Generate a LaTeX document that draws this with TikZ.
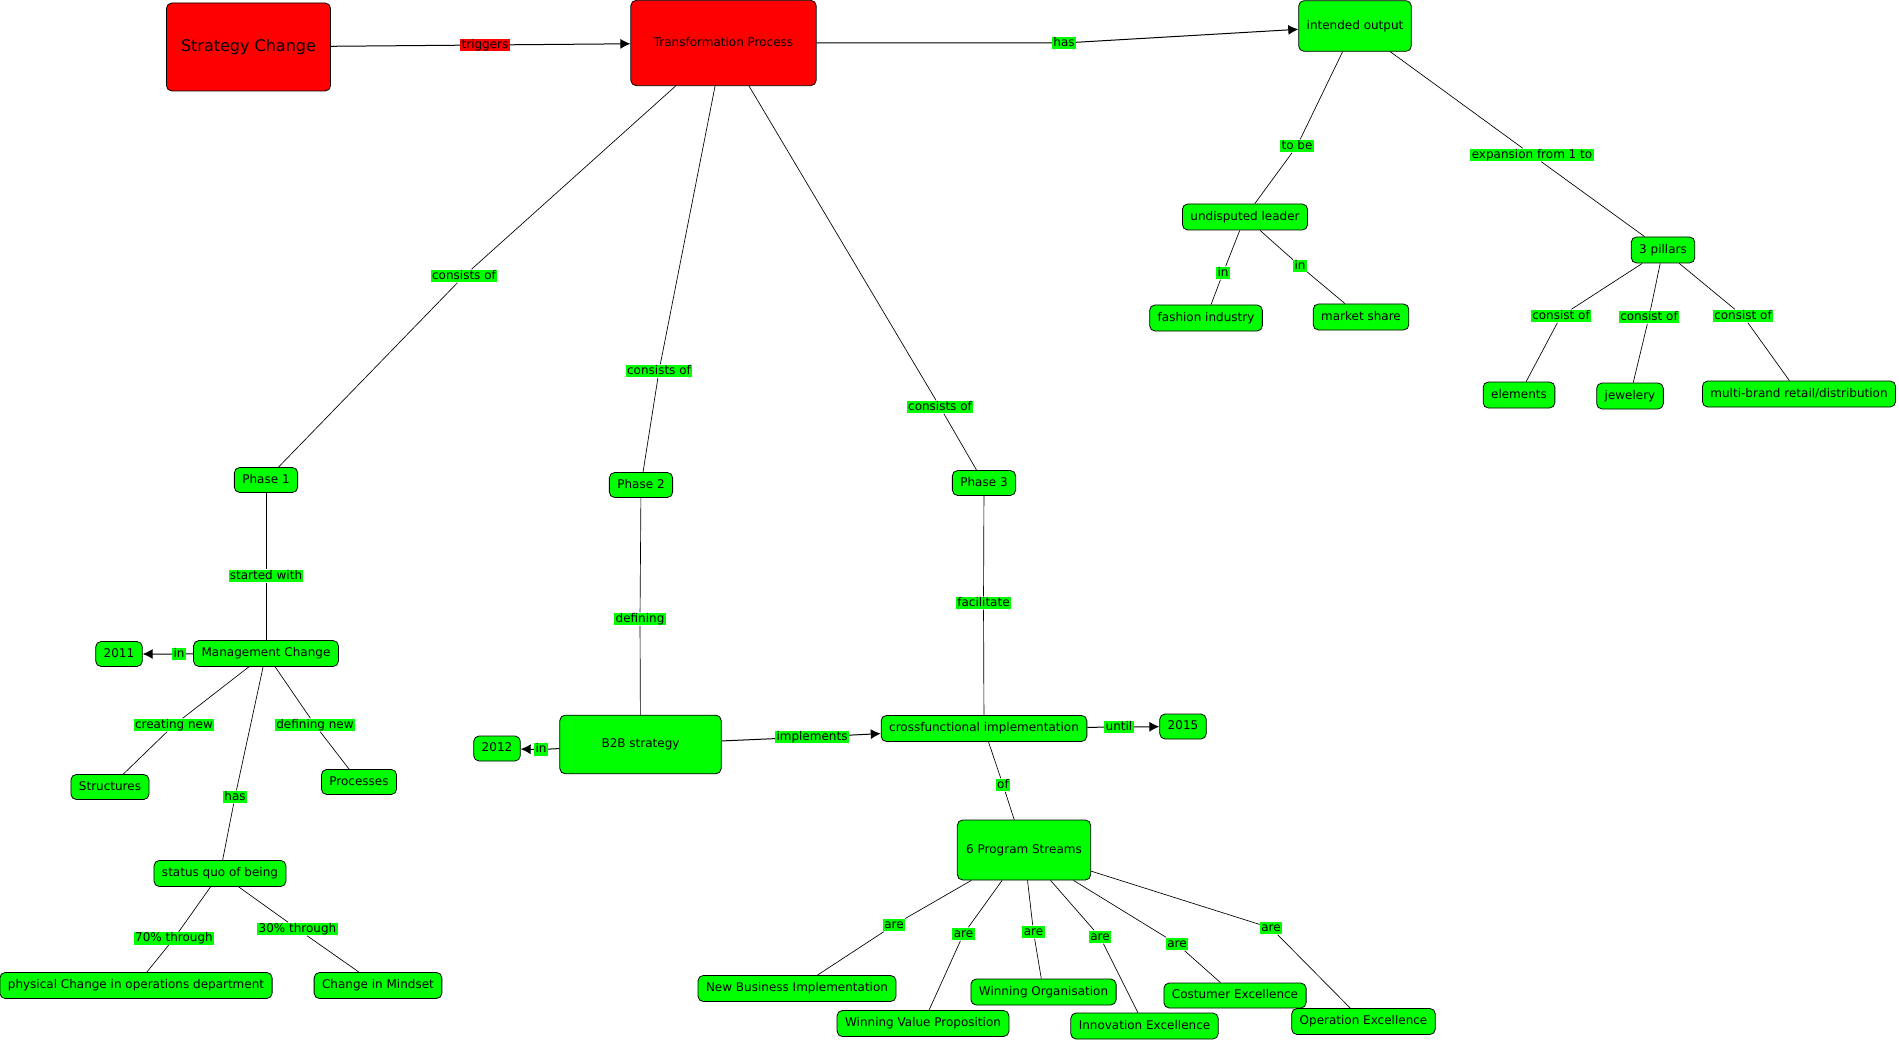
\documentclass[tikz,border=0pt]{standalone}
\usepackage{fontspec}
\setmainfont{DejaVu Sans}
\usepackage{xcolor}
\usepackage{tikz}
\usetikzlibrary{arrows.meta}
\definecolor{cmapgreen}{RGB}{0,255,0}
\definecolor{cmapred}{RGB}{255,0,0}

\begin{document}
\begin{tikzpicture}[x=0.75pt,y=-0.75pt,
	concept/.style={draw=black,line width=0.6pt,rounded corners=4pt,fill=cmapgreen,
		font=\fontsize{9}{10}\selectfont,text height=6.8pt,text depth=1.9pt,
		inner xsep=6pt,inner ysep=2pt,minimum height=19.5pt},
	redconcept/.style={concept,fill=cmapred},
	linkword/.style={fill=cmapgreen,inner xsep=1pt,inner ysep=0.5pt,
		font=\fontsize{9}{10}\selectfont,text height=6.8pt,text depth=1.9pt},
	link/.style={line width=0.5pt},
	arrowlink/.style={line width=0.75pt,-{Latex[length=7.5pt,width=7.5pt]}}]
		\useasboundingbox (0,0) rectangle (1899,1041);
		% top row
		\node[redconcept,minimum width=123pt,minimum height=66pt,font=\fontsize{12}{14}\selectfont,text height=9pt,text depth=2.5pt] (strategy) at (248.5,47) {Strategy Change};
		\node[redconcept,minimum width=139pt,minimum height=64pt] (transf) at (723.5,43) {Transformation Process};
		\node[concept,minimum width=84pt,minimum height=38pt] (output) at (1355,26) {intended output};
		\node[linkword,fill=cmapred] (triggers) at (485,45) {triggers};
		\node[linkword] (has) at (1064,43) {has};
		\draw[arrowlink] (strategy) -- (triggers) -- (transf);
		\draw[arrowlink] (transf) -- (has) -- (output);
		% intended output
		\node[concept] (leader) at (1245,217) {undisputed leader};
		\node[concept] (fashion) at (1206,318) {fashion industry};
		\node[concept] (market) at (1361,317) {market share};
		\node[concept] (pillars) at (1663,250) {3 pillars};
		\node[concept] (elements) at (1519,395) {elements};
		\node[concept] (jewelery) at (1630,396) {jewelery};
		\node[concept] (multibrand) at (1799,394) {multi-brand retail/distribution};
		\node[linkword] (tobe) at (1297,146) {to be};
		\node[linkword] (infashion) at (1223,273) {in};
		\node[linkword] (inmarket) at (1300,266) {in};
		\node[linkword] (expansion) at (1532,155) {expansion from 1 to};
		\node[linkword] (consistA) at (1561,316) {consist of};
		\node[linkword] (consistB) at (1649,317) {consist of};
		\node[linkword] (consistC) at (1743,316) {consist of};
		\draw[link] (output) -- (tobe) -- (leader);
		\draw[link] (leader) -- (infashion) -- (fashion);
		\draw[link] (leader) -- (inmarket) -- (market);
		\draw[link] (output) -- (expansion) -- (pillars);
		\draw[link] (pillars) -- (consistA) -- (elements);
		\draw[link] (pillars) -- (consistB) -- (jewelery);
		\draw[link] (pillars) -- (consistC) -- (multibrand);
		% phases
		\node[concept,minimum height=18.75pt] (phaseA) at (266,480) {Phase 1};
		\node[concept,minimum height=18.75pt] (phaseB) at (641,485) {Phase 2};
		\node[concept,minimum height=18.75pt] (phaseC) at (984,483) {Phase 3};
		\node[linkword] (consistsA) at (464,276) {consists of};
		\node[linkword] (consistsB) at (659,371) {consists of};
		\node[linkword] (consistsC) at (940,407) {consists of};
		\draw[link] (transf) -- (consistsA) -- (phaseA);
		\draw[link] (transf) -- (consistsB) -- (phaseB);
		\draw[link] (transf) -- (consistsC) -- (phaseC);
		% phase 1
		\node[concept] (mgmt) at (266,653.5) {Management Change};
		\node[concept,minimum height=18.75pt] (yearA) at (119,654) {2011};
		\node[concept,minimum height=18.75pt] (structures) at (110,787) {Structures};
		\node[concept,minimum height=18.75pt] (processes) at (359,782) {Processes};
		\node[concept] (statusquo) at (220,873.5) {status quo of being};
		\node[concept] (physical) at (136,985.5) {physical Change in operations department};
		\node[concept] (mindset) at (378,985.5) {Change in Mindset};
		\node[linkword] (started) at (266,576) {started with};
		\node[linkword] (inA) at (179,654) {in};
		\node[linkword] (creating) at (174,725) {creating new};
		\node[linkword] (definingnew) at (315,725) {defining new};
		\node[linkword] (hasquo) at (235,797) {has};
		\node[linkword] (seventy) at (174,938.5) {70\% through};
		\node[linkword] (thirty) at (297.5,929) {30\% through};
		\draw[link] (phaseA) -- (started) -- (mgmt);
		\draw[arrowlink] (mgmt) -- (inA) -- (yearA);
		\draw[link] (mgmt) -- (creating) -- (structures);
		\draw[link] (mgmt) -- (definingnew) -- (processes);
		\draw[link] (mgmt) -- (hasquo) -- (statusquo);
		\draw[link] (statusquo) -- (seventy) -- (physical);
		\draw[link] (statusquo) -- (thirty) -- (mindset);
		% phase 2 and 3
		\node[concept,minimum width=121pt,minimum height=44pt] (b2b) at (640.5,744.5) {B2B strategy};
		\node[concept,minimum height=18.75pt] (yearB) at (497,748.5) {2012};
		\node[concept] (crossf) at (984,728.5) {crossfunctional implementation};
		\node[concept,minimum height=18.75pt] (yearC) at (1183,726.5) {2015};
		\node[concept,minimum width=100pt,minimum height=45pt] (streams) at (1024,850) {6 Program Streams};
		\node[linkword] (defining) at (640,619) {defining};
		\node[linkword] (inB) at (541,749.5) {in};
		\node[linkword] (implements) at (812,737) {implements};
		\node[linkword] (until) at (1119,727) {until};
		\node[linkword] (facilitate) at (983.5,603) {facilitate};
		\node[linkword] (of) at (1003,785) {of};
		\draw[link] (phaseB) -- (defining) -- (b2b);
		\draw[arrowlink] (b2b) -- (inB) -- (yearB);
		\draw[arrowlink] (b2b) -- (implements) -- (crossf);
		\draw[arrowlink] (crossf) -- (until) -- (yearC);
		\draw[link] (phaseC) -- (facilitate) -- (crossf);
		\draw[link] (crossf) -- (of) -- (streams);
		% program streams
		\node[concept] (newbusiness) at (797,988.5) {New Business Implementation};
		\node[concept] (valueprop) at (923,1023.5) {Winning Value Proposition};
		\node[concept] (organisation) at (1043.5,992) {Winning Organisation};
		\node[concept] (innovation) at (1144.5,1026) {Innovation Excellence};
		\node[concept,minimum height=18.75pt] (costumer) at (1235,995.5) {Costumer Excellence};
		\node[concept] (operation) at (1363.5,1021.5) {Operation Excellence};
		\node[linkword] (areA) at (894,925) {are};
		\node[linkword] (areB) at (963.5,934) {are};
		\node[linkword] (areC) at (1033.5,932) {are};
		\node[linkword] (areD) at (1100,937) {are};
		\node[linkword] (areE) at (1177,944) {are};
		\node[linkword] (areF) at (1271,928) {are};
		\draw[link] (streams) -- (areA) -- (newbusiness);
		\draw[link] (streams) -- (areB) -- (valueprop);
		\draw[link] (streams) -- (areC) -- (organisation);
		\draw[link] (streams) -- (areD) -- (innovation);
		\draw[link] (streams) -- (areE) -- (costumer);
		\draw[link] (streams) -- (areF) -- (operation);
	\end{tikzpicture}
\end{document}
